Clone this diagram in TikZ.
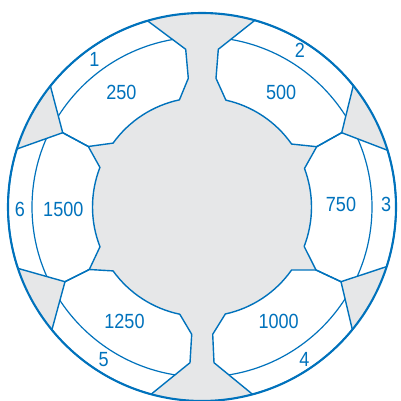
\documentclass[tikz,border=0pt]{standalone}
\usepackage{fontspec}
\newfontfamily\lblfont{Liberation Sans}[FakeStretch=0.88]
\definecolor{ringblue}{RGB}{0,114,188}
\definecolor{ringgray}{RGB}{230,231,232}
\begin{document}
\begin{tikzpicture}[x=1pt,y=-1pt,
  lbl/.style={text=ringblue,font=\lblfont\fontsize{20.5}{24}\selectfont,inner sep=0pt,anchor=center},
  sectorline/.style={draw=ringblue,line width=1.4pt,line join=round,fill=white},
  bandline/.style={draw=ringblue,line width=1.2pt},
  rimline/.style={draw=ringblue,line width=2.1pt}]
\useasboundingbox (0,0) rectangle (400,401);
\fill[white] (0,0) rectangle (400,401);
\coordinate (C) at (202,207);
% gray disc
\fill[ringgray] (C) circle[radius=194];
% sector paths
\def\secOne{([shift={(202,207)}]-106.3:194) arc[start angle=-106.3,end angle=-141.4,radius=194] -- (62.7,132.7) -- (88.3,146.5) -- ([shift={(202,207)}]-144.3:109.5) arc[start angle=-144.3,end angle=-101.9,radius=109.5] -- (188.3,78.3) -- (185.7,49.3) -- cycle}
\def\secSix{([shift={(202,207)}]-162.6:194) arc[start angle=-162.6,end angle=-198.45,radius=194] -- (65,281.7) -- (89.3,269.5) -- ([shift={(202,207)}]158.7:109.5) arc[start angle=158.7,end angle=201.2,radius=109.5] -- (88.3,146.5) -- (62.7,132.7) -- cycle}
\def\secFive{([shift={(202,207)}]140.7:194) arc[start angle=140.7,end angle=105.2,radius=194] -- (190,362.7) -- (191.7,334.3) -- ([shift={(202,207)}]101.7:109.5) arc[start angle=101.7,end angle=144.3,radius=109.5] -- (89.3,269.5) -- (65,281.7) -- cycle}
\def\secFour{([shift={(202,207)}]74.9:194) -- (214,362.7) -- (212.7,334.3) -- ([shift={(202,207)}]77.7:109.5) arc[start angle=77.7,end angle=35.1,radius=109.5] -- (316,270) -- (341,281.7) -- ([shift={(202,207)}]39.2:194) arc[start angle=39.2,end angle=74.9,radius=194] -- cycle}
\def\secThree{([shift={(202,207)}]-17:194) arc[start angle=-17,end angle=17.9,radius=194] -- (341,281.7) -- (316,270) -- ([shift={(202,207)}]21.1:109.5) arc[start angle=21.1,end angle=-20.6,radius=109.5] -- (316.7,146.7) -- (341.7,132.7) -- cycle}
\def\secTwo{([shift={(202,207)}]-74.2:194) -- (218.3,49.3) -- (216,78.3) -- ([shift={(202,207)}]-77.4:109.5) arc[start angle=-77.4,end angle=-35.1,radius=109.5] -- (316.7,146.7) -- (341.7,132.7) -- ([shift={(202,207)}]-38.75:194) arc[start angle=-38.75,end angle=-74.2,radius=194] -- cycle}
% white sectors
\path[sectorline,draw=none] \secOne;
\path[sectorline,draw=none] \secTwo;
\path[sectorline,draw=none] \secThree;
\path[sectorline,draw=none] \secFour;
\path[sectorline,draw=none] \secFive;
\path[sectorline,draw=none] \secSix;
% band circle, visible only inside the white sectors
\begin{scope}
  \clip \secOne \secTwo \secThree \secFour \secFive \secSix;
  \draw[bandline] (C) circle[radius=170];
\end{scope}
% outlines
\path[sectorline,fill=none] \secOne;
\path[sectorline,fill=none] \secTwo;
\path[sectorline,fill=none] \secThree;
\path[sectorline,fill=none] \secFour;
\path[sectorline,fill=none] \secFive;
\path[sectorline,fill=none] \secSix;
% rim
\draw[rimline] (C) circle[radius=194];
% labels
\node[lbl] (n1) at (94.5,59.3) {1};
\node[lbl] (v1) at (121.3,92.2) {250};
\node[lbl] (n2) at (300,50) {2};
\node[lbl] (v2) at (281.2,92) {500};
\node[lbl] (n3) at (386.2,204.5) {3};
\node[lbl] (v3) at (341,204.5) {750};
\node[lbl] (n4) at (304.3,359) {4};
\node[lbl] (v4) at (278.7,321.7) {1000};
\node[lbl] (n5) at (103.7,359.2) {5};
\node[lbl] (v5) at (124.5,321.7) {1250};
\node[lbl] (n6) at (20,209.2) {6};
\node[lbl] (v6) at (63.3,209.2) {1500};
\end{tikzpicture}
\end{document}
